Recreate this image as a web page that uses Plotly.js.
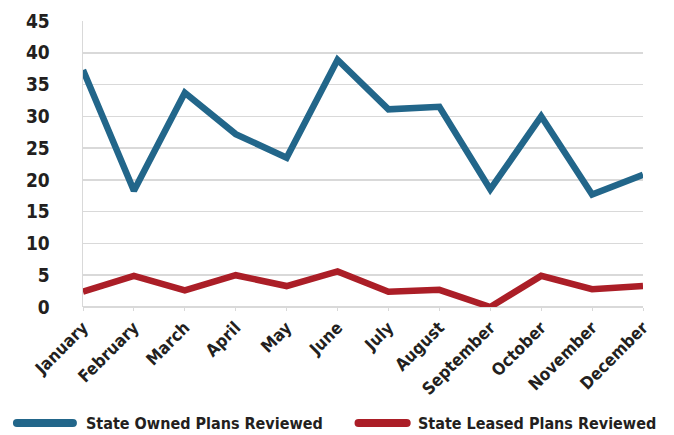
<!DOCTYPE html>
<html><head><meta charset="utf-8">
<script src="https://cdn.plot.ly/plotly-3.0.1.min.js"></script>
<style>html,body{margin:0;padding:0;background:#fff}#chart{width:674px;height:435px}</style>
</head><body><div id="chart"></div>
<script>
const months = ["January","February","March","April","May","June","July","August","September","October","November","December"];
const stateOwned = [37.3, 18.3, 33.7, 27.2, 23.5, 38.9, 31.1, 31.5, 18.5, 30.0, 17.7, 20.8];
const stateLeased = [2.4, 4.9, 2.6, 5.0, 3.3, 5.6, 2.4, 2.7, 0.0, 4.9, 2.8, 3.3];
const yTicks = [0,5,10,15,20,25,30,35,40,45];
const seriesNames = ['State Owned Plans Reviewed', 'State Leased Plans Reviewed'];
const seriesColors = ['#22668a', '#ab1e27'];

const font = "'DejaVu Sans Condensed', 'DejaVu Sans', sans-serif";
const textColor = '#231f20';
const traces = [
  {x: months, y: stateOwned, type: 'scatter', mode: 'lines', name: seriesNames[0],
   line: {color: seriesColors[0], width: 6.5}},
  {x: months, y: stateLeased, type: 'scatter', mode: 'lines', name: seriesNames[1],
   line: {color: seriesColors[1], width: 6.5}}
];

// custom legend (paper coordinates)
const legY = -0.4056;
const legItems = [{x0: -0.118, x1: -0.018, tx: 0.002}, {x0: 0.492, x1: 0.578, tx: 0.594}];
const shapes = [], annotations = [];
legItems.forEach((it, i) => {
  shapes.push({type: 'line', xref: 'paper', yref: 'paper', x0: it.x0, x1: it.x1, y0: legY, y1: legY,
               line: {color: seriesColors[i], width: 8}});
  [it.x0, it.x1].forEach(xa => shapes.push({type: 'circle', xref: 'paper', yref: 'paper',
      xsizemode: 'pixel', ysizemode: 'pixel', xanchor: xa, yanchor: legY,
      x0: -4, x1: 4, y0: -4, y1: 4, fillcolor: seriesColors[i], line: {width: 0}}));
  annotations.push({xref: 'paper', yref: 'paper', x: it.tx, y: legY, xanchor: 'left', yanchor: 'middle',
      showarrow: false, text: seriesNames[i], font: {family: font, size: 16, color: textColor, weight: 700}});
});

const layout = {
  width: 674, height: 435,
  margin: {l: 83, r: 31, t: 21, b: 128},
  paper_bgcolor: '#fff', plot_bgcolor: '#fff',
  font: {family: font, color: textColor, size: 18, weight: 700},
  showlegend: false,
  shapes: shapes, annotations: annotations,
  xaxis: {type: 'category', range: [0, 11], tickangle: -45, showgrid: false,
          showline: false, ticks: 'outside', ticklen: 3, tickcolor: '#d9d9d9',
          tickfont: {family: font, size: 17, color: textColor, weight: 700}, automargin: false, fixedrange: true},
  yaxis: {range: [0, 45], tickvals: yTicks, ticktext: yTicks.map(String), showgrid: true, gridcolor: '#d9d9d9', gridwidth: 1.5,
          zeroline: true, zerolinecolor: '#d9d9d9', zerolinewidth: 1.5,
          showline: true, linecolor: '#d9d9d9', linewidth: 1.5, ticks: '', ticklabelstandoff: 28,
          tickfont: {family: font, size: 19, color: textColor, weight: 700}, automargin: false, fixedrange: true}
};
Plotly.newPlot('chart', traces, layout, {staticPlot: true});
</script></body></html>
